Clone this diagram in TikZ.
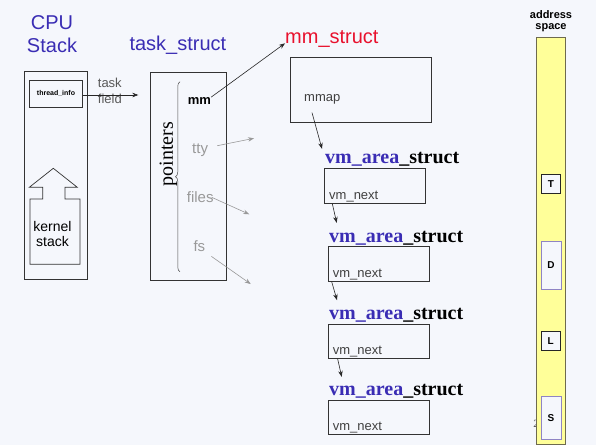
\documentclass[tikz,border=0pt]{standalone}
\usepackage{fontspec}
\setmainfont{Liberation Sans}
\newfontfamily\timesfont{Liberation Serif}
\usepackage{xcolor}
\usepackage{tikz}
\usetikzlibrary{arrows.meta,decorations.pathreplacing}
\definecolor{slideblue}{HTML}{3A2DB4}
\definecolor{slidered}{HTML}{E8112D}
\definecolor{slidebg}{HTML}{F5F7FC}
\definecolor{memyellow}{HTML}{FFFF99}
\definecolor{memedge}{HTML}{6E6A4E}
\definecolor{segedge}{HTML}{8F84C4}
\tikzset{
  box/.style={draw=black!80, line width=0.8pt, fill=slidebg, inner sep=0pt},
  title/.style={font=\fontsize{20}{23}\selectfont, text=slideblue, inner sep=0pt},
  vmatitle/.style={font=\timesfont\bfseries\fontsize{20}{23}\selectfont, inner sep=0pt, anchor=base west},
  field/.style={font=\fontsize{13}{15}\selectfont, text=black!75, inner sep=0pt, anchor=base west},
  faint/.style={font=\fontsize{15}{17}\selectfont, text=black!40, inner sep=0pt, anchor=base west},
  ptr/.style={-{Stealth[length=6pt,width=4.5pt]}, line width=0.6pt, black!85},
  faintptr/.style={ptr, black!40},
  seg/.style={draw=black!85, line width=0.8pt, fill=slidebg, inner sep=0pt, font=\bfseries\fontsize{10}{11}\selectfont}
}
\newcommand{\vmatitle}{\textcolor{slideblue}{vm\_area}\_struct}

\begin{document}
\begin{tikzpicture}[x=1pt,y=-1pt]
    \fill[slidebg] (0,0) rectangle (596,445);
    \useasboundingbox (0,0) rectangle (596,445);

    \node[title, align=center, anchor=north] (cputitle) at (52,15.7) {CPU\\Stack};
    \node[box, minimum width=63.3pt, minimum height=207.6pt] (cpu) at (55.65,175.5) {};
    \node[box, minimum width=52.6pt, minimum height=27.3pt, font=\bfseries\fontsize{7}{8}\selectfont] (tinfo) at (56,93.65) {thread\_info};
    \draw[line width=0.7pt, black!80] (53.3,168.3) -- (77.3,187.3) -- (65,187.3) -- (65,199) -- (80,199)
      -- (80,264.3) -- (30,264.3) -- (30,199) -- (42.7,199) -- (42.7,187.3) -- (29.3,187.3) -- cycle;
    \node[font=\fontsize{14}{15.7}\selectfont, align=center, anchor=north, inner sep=0pt] (kstack) at (52.5,220.8) {kernel\\stack};

    \node[font=\fontsize{13}{16}\selectfont, text=black!65, align=left, anchor=north west, inner sep=0pt] (tfield) at (97.7,77.8) {task\\field};
    \coordinate (taskin) at (138.3,95);
    \draw[ptr] (tinfo.east |- taskin) -- (taskin);

    \node[title, anchor=base west] (tstitle) at (129.3,50) {task\_struct};
    \node[box, minimum width=76.7pt, minimum height=207.7pt] (task) at (188.35,176.15) {};
    \draw[decorate, decoration={brace, amplitude=4.5pt}, black!70, line width=0.5pt] (180,271.7) -- (180,81.7);
    \node[font=\timesfont\fontsize{20}{23}\selectfont, rotate=90, inner sep=0pt] (pointers) at (168.5,154) {pointers};
    \node[font=\bfseries\fontsize{13}{15}\selectfont, inner sep=0pt, anchor=base west] (mm) at (187.7,104.3) {mm};
    \node[faint] (tty) at (192,153) {tty};
    \node[faint] (files) at (186.7,202.7) {files};
    \node[faint] (fs) at (193.3,251) {fs};
    \coordinate (ttyend) at (254,138.3);
    \coordinate (filesend) at (249.3,214.3);
    \coordinate (fsend) at (250.7,284);

    \node[title, text=slidered, anchor=base west] (mmtitle) at (285,43.3) {mm\_struct};
    \node[box, minimum width=141.7pt, minimum height=65.4pt] (mmbox) at (360.85,90) {};
    \node[field] (mmap) at (304,101.7) {mmap};

    \node[vmatitle] (v1title) at (325,163.3) {\vmatitle};
    \node[box, minimum width=100.7pt, minimum height=35pt] (v1) at (374.65,185.8) {};
    \node[field] (v1next) at (329,199.3) {vm\_next};
    \node[vmatitle] (v2title) at (329,242.7) {\vmatitle};
    \node[box, minimum width=100.7pt, minimum height=34.3pt] (v2) at (378.65,263.85) {};
    \node[field] (v2next) at (332.7,277) {vm\_next};
    \node[vmatitle] (v3title) at (329,319.3) {\vmatitle};
    \node[box, minimum width=100.7pt, minimum height=34.3pt] (v3) at (378.65,341.15) {};
    \node[field] (v3next) at (332.7,354) {vm\_next};
    \node[vmatitle] (v4title) at (329,395) {\vmatitle};
    \node[box, minimum width=100.7pt, minimum height=34.3pt] (v4) at (378.65,417.15) {};
    \node[field] (v4next) at (332.7,430.7) {vm\_next};

    \draw[ptr] (mm.north east) -- (mmtitle.base west);
    \draw[faintptr] ([xshift=9pt,yshift=4pt]tty.east) -- (ttyend);
    \draw[faintptr] ([xshift=-2pt]files.east) -- (filesend);
    \draw[faintptr] ([xshift=6pt,yshift=-5pt]fs.south east) -- (fsend);
    \draw[ptr] ([xshift=8pt,yshift=-8pt]mmap.south west) -- ([xshift=-3pt,yshift=3pt]v1title.north west);
    \draw[ptr] ([xshift=8.4pt]v1.south west) -- ([xshift=7.7pt,yshift=8.4pt]v2title.north west);
    \draw[ptr] ([xshift=3.7pt]v2.south west) -- ([xshift=8pt,yshift=7.7pt]v3title.north west);
    \draw[ptr] ([xshift=9.7pt]v3.south west) -- ([xshift=12.7pt,yshift=6.7pt]v4title.north west);

    \node[font=\bfseries\fontsize{11}{11}\selectfont, align=center, anchor=north, inner sep=0pt] (astitle) at (551,10.4) {address\\space};
    \node[font=\timesfont\fontsize{11}{12}\selectfont, text=black!70, anchor=base east, inner sep=0pt] (pgnum) at (539,427) {2};
    \node[draw=memedge, fill=memyellow, line width=1pt, minimum width=29pt, minimum height=407pt, inner sep=0pt] (aspace) at (551.2,240.8) {};
    \node[seg, minimum width=18.6pt, minimum height=19pt] (segT) at (551,183.8) {T};
    \node[seg, draw=segedge, minimum width=20pt, minimum height=47.6pt] (segD) at (551,265.5) {D};
    \node[seg, minimum width=18.7pt, minimum height=19pt] (segL) at (550.65,341.2) {L};
    \node[seg, draw=segedge, minimum width=20pt, minimum height=42.6pt] (segS) at (551,418) {S};
  \end{tikzpicture}
\end{document}
